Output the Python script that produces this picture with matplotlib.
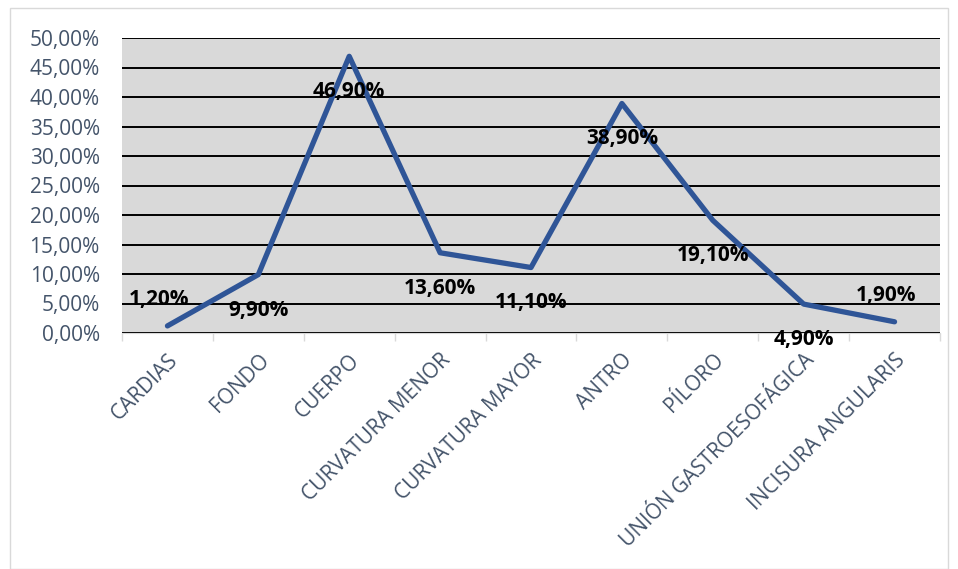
import matplotlib.pyplot as plt
from matplotlib.patches import Rectangle

categories = ["CARDIAS", "FONDO", "CUERPO", "CURVATURA MENOR", "CURVATURA MAYOR",
              "ANTRO", "PÍLORO", "UNIÓN GASTROESOFÁGICA", "INCISURA ANGULARIS"]
values = [1.2, 9.9, 46.9, 13.6, 11.1, 38.9, 19.1, 4.9, 1.9]
labels = ["1,20%", "9,90%", "46,90%", "13,60%", "11,10%", "38,90%", "19,10%", "4,90%", "1,90%"]
label_above = [True, False, False, False, False, False, False, False, True]

fig = plt.figure(figsize=(9.58, 5.69), dpi=100)
ax = fig.add_axes([122 / 958, 1 - 333 / 569, (940 - 122) / 958, (333 - 38) / 569])

fig.patches.append(Rectangle((10 / 958, 0), 938 / 958, 1 - 8 / 569, transform=fig.transFigure,
                             fill=False, edgecolor="#D9D9D9", linewidth=1))

x = list(range(len(categories)))
ax.set_facecolor("#D9D9D9")
ax.plot(x, values, color="#2F5597", linewidth=3.8, solid_capstyle="round", zorder=3)

for xi, v, lab, up in zip(x, values, labels, label_above):
    dy = 19 if up else -25.5
    dx = -6 if up else 0
    ax.annotate(lab, (xi, v), xytext=(dx, dy), textcoords="offset points",
                ha="center", va="center", fontsize=15, fontweight="bold",
                family="Open Sans", color="black", zorder=4)

ax.set_xlim(-0.5, len(categories) - 0.5)
ax.set_ylim(0, 50)
yt = list(range(0, 51, 5))
ax.set_yticks(yt)
ax.set_yticklabels([f"{t},00%" for t in yt], family="Open Sans", fontsize=15, color="#44546A")
ax.yaxis.grid(True, color="black", linewidth=1.4)
ax.set_axisbelow(True)
ax.tick_params(axis="y", length=0, pad=16)

ax.set_xticks(x)
ax.set_xticklabels(categories, rotation=45, ha="right", rotation_mode="anchor",
                   family="Open Sans", fontsize=15, color="#44546A")
ax.set_xticks([i - 0.5 for i in range(len(categories) + 1)], minor=True)
ax.tick_params(axis="x", which="major", length=0, pad=12)
ax.tick_params(axis="x", which="minor", length=6, color="#D9D9D9", width=1)

for s in ["top", "right", "left"]:
    ax.spines[s].set_visible(False)
ax.spines["bottom"].set_color("#D9D9D9")

fig.savefig("out.png", dpi=100)
